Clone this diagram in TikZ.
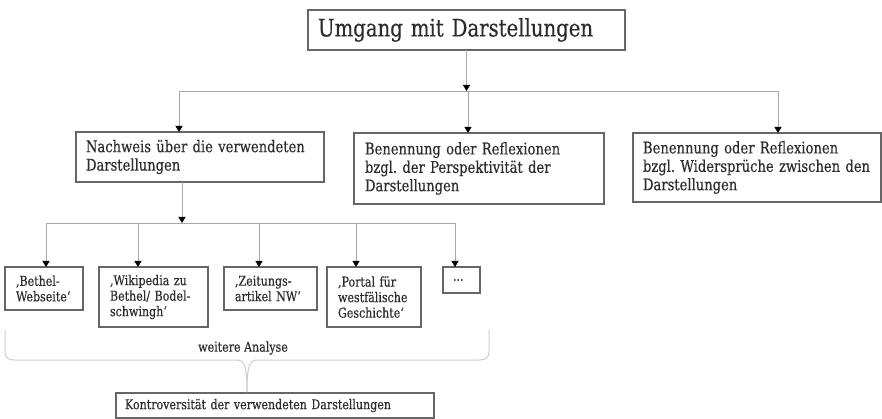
\documentclass[tikz,border=0pt]{standalone}
\usepackage{fontspec}
\setmainfont{DejaVu Serif}[FakeStretch=0.82,FakeBold=0.35]
\usetikzlibrary{arrows.meta}
\frenchspacing

\definecolor{txt}{HTML}{2C2C2C}
\definecolor{frame}{HTML}{666666}
\definecolor{wirec}{HTML}{A8A8A8}
\definecolor{bracec}{HTML}{CDCDCD}

\tikzset{
  wire/.style={draw=wirec, line width=0.9pt},
  arr/.style={wire, -{Triangle[width=7pt,length=6pt,color=black]}},
  box/.style={draw=frame, line width=1.2pt, anchor=north west, inner xsep=10pt,
    inner ysep=0pt, outer sep=0pt, align=left, text=txt},
  titlefont/.style={font=\fontsize{24}{28}\selectfont},
  midfont/.style={font=\fontsize{16}{18.4}\selectfont},
  smallfont/.style={font=\fontsize{13.5}{15.5}\selectfont},
}

\begin{document}
\begin{tikzpicture}[x=1pt,y=-1pt]
\useasboundingbox (0,0) rectangle (882,419);

% top level
\node[box, titlefont, text width=297pt, minimum height=40pt] (top) at (308,10) {Umgang mit Darstellungen};

% second level
\node[box, midfont, text width=228pt, minimum height=50pt] (nachweis) at (76,132)
  {Nachweis über die verwendeten\\Darstellungen};
\node[box, midfont, inner xsep=11pt, text width=228pt, minimum height=71pt] (persp) at (354,133)
  {Benennung oder Reflexionen\\bzgl. der Perspektivität der\\Darstellungen};
\node[box, midfont, inner xsep=10pt, text width=228pt, minimum height=69pt] (wider) at (633,133)
  {Benennung oder Reflexionen\\bzgl. Widersprüche zwischen den\\Darstellungen};

% sources
\node[box, smallfont, inner xsep=11pt, text width=56pt, minimum height=43pt] (bethel) at (5,267)
  {‚Bethel-\\Webseite‘};
\node[box, smallfont, inner xsep=11pt, text width=87pt, minimum height=60pt] (wiki) at (99,267)
  {‚Wikipedia zu\\Bethel/ Bodel-\\schwingh‘};
\node[box, smallfont, inner xsep=11pt, text width=71pt, minimum height=43pt] (zeitung) at (224,267)
  {‚Zeitungs-\\artikel NW‘};
\node[box, smallfont, inner xsep=11pt, text width=72pt, minimum height=60pt] (portal) at (327,267)
  {‚Portal für\\westfälische\\Geschichte‘};
\node[box, smallfont, inner xsep=10pt, text width=17pt, minimum height=26pt] (dots) at (443,267)
  {...};

% result
\node[box, smallfont, inner xsep=9pt, text width=300pt, minimum height=25pt] (kontro) at (116,393)
  {Kontroversität der verwendeten Darstellungen};

% first branching
\coordinate (j0) at (466.5,91);
\coordinate (j0l) at (179,91);
\coordinate (j0c) at (468,91);
\coordinate (j0r) at (778,91);
\draw[wire] (j0l) -- (j0r);
\draw[arr] (top.south) -- (j0);
\draw[arr] (j0l) -- (j0l |- nachweis.north);
\draw[arr] (j0c) -- (j0c |- persp.north);
\draw[arr] (j0r) -- (j0r |- wider.north);

% second branching
\coordinate (j1) at (182,223);
\coordinate (j1a) at (46,223);
\coordinate (j1b) at (138,223);
\coordinate (j1c) at (259,223);
\coordinate (j1d) at (356,223);
\coordinate (j1e) at (455,223);
\draw[wire] (j1a) -- (j1e);
\draw[arr] (j1 |- nachweis.south) -- (j1);
\draw[arr] (j1a) -- (j1a |- bethel.north);
\draw[arr] (j1b) -- (j1b |- wiki.north);
\draw[arr] (j1c) -- (j1c |- zeitung.north);
\draw[arr] (j1d) -- (j1d |- portal.north);
\draw[arr] (j1e) -- (j1e |- dots.north);

% brace gathering the sources
\draw[draw=bracec, line width=1pt]
  (5,330) -- (5,351) .. controls (5,358) and (8,360) .. (15,360) -- (236,360)
  .. controls (244,360) and (247,364) .. (247,392);
\draw[draw=bracec, line width=1pt]
  (489,330) -- (489,351) .. controls (489,358) and (486,360) .. (479,360) -- (258,360)
  .. controls (250,360) and (247,364) .. (247,392);
\node[smallfont, text=txt, inner sep=0pt] (analyse) at (243,348) {weitere Analyse};
\end{tikzpicture}
\end{document}
